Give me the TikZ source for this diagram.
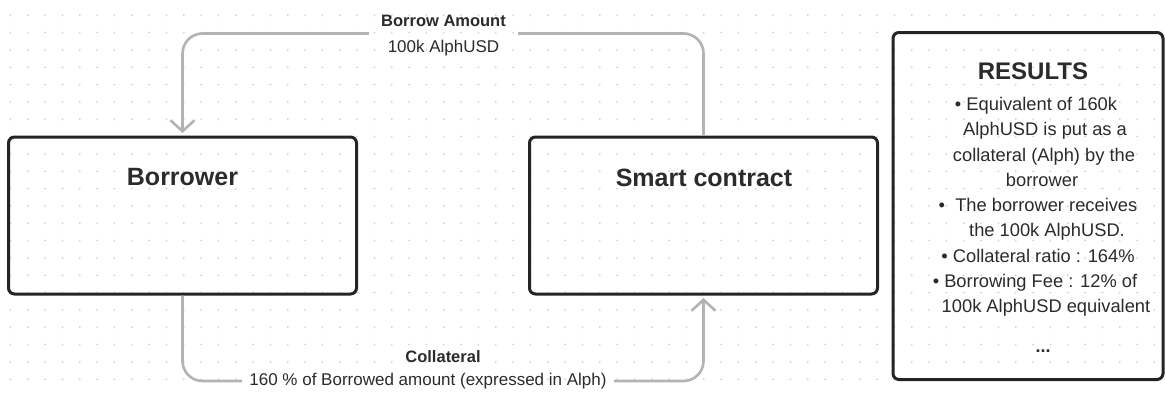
\documentclass[tikz,border=0pt]{standalone}
\usepackage{fontspec}
\setmainfont{Liberation Sans}
\usetikzlibrary{arrows.meta}
\definecolor{ink}{HTML}{2B2B2B}
\definecolor{edgegray}{HTML}{B3B3B3}
\definecolor{dotgray}{HTML}{D8D8D8}
\definecolor{frame}{HTML}{242424}
\begin{document}
\begin{tikzpicture}[x=1pt,y=-1pt,
  box/.style={draw=frame,line width=3pt,rounded corners=6pt,inner sep=0pt},
  boxtitle/.style={font=\fontsize{25}{30}\selectfont\bfseries,text=ink,inner sep=0pt},
  lab/.style={text=ink,inner sep=0pt,align=center},
  flow/.style={draw=edgegray,line width=2.6pt,rounded corners=20pt},
  tip/.style={-{Straight Barb[length=11pt,width=24pt]},shorten >=2.5pt},
  res/.style={text=ink,font=\fontsize{18.3}{20}\selectfont,anchor=base,inner sep=0pt}]
\useasboundingbox (0,0) rectangle (1166,392);
\fill[white] (0,0) rectangle (1166,392);
% dot grid
\foreach \i in {0,...,66}{\foreach \j in {0,...,21}{\fill[dotgray] (10.4+17.333*\i,15.3+17.333*\j) circle (1.1pt);}}
% boxes
\node[box,minimum width=348pt,minimum height=157pt] (bor) at (182.5,215.5) {};
\node[boxtitle] (bort) at (182.5,177.5) {Borrower};
\node[box,minimum width=348pt,minimum height=157pt] (sc) at (703.5,215.5) {};
\node[boxtitle] (sct) at (704,177.5) {Smart contract};
\node[box,minimum width=270pt,minimum height=347pt] (res) at (1028,206) {};
% labels
\node[lab,minimum width=149pt,font=\fontsize{17}{26}\selectfont] (amt) at (443.5,33.5)
  {\rule{0pt}{16pt}\textbf{\fontsize{16.5}{26}\selectfont Borrow Amount}\\100k AlphUSD};
\node[lab,font=\fontsize{16.5}{20}\selectfont\bfseries] (col) at (443,356.5) {Collateral};
\node[lab,font=\fontsize{17}{20}\selectfont,inner xsep=7pt] (pct) at (428,381) {160 \% of Borrowed amount (expressed in Alph)};
% connectors
\draw[flow] (sc.north) |- (amt.east);
\draw[flow,tip] (amt.west) -| (bor.north);
\draw[flow] (bor.south) |- (pct.west);
\draw[flow,tip] (pct.east) -| (sc.south);
% results
\node[boxtitle,font=\fontsize{24}{28}\selectfont\bfseries] (rest) at (1033,71.5) {RESULTS};
\foreach \yy/\xx/\txt [count=\k] in {
  104/1036/{• Equivalent of 160k},
  129.25/1045/{AlphUSD is put as a},
  154.5/1044/{collateral (Alph) by the},
  179.75/1042/{borrower},
  205/1038/{•\ \ The borrower receives},
  230.25/1047/{the 100k AlphUSD.},
  255.5/1038/{• Collateral ratio : 164\%},
  280.75/1035/{• Borrowing Fee : 12\% of},
  306/1046/{100k AlphUSD equivalent}}
  \node[res] (r\k) at (\xx,\yy+6.5) {\txt};
\node[res,font=\fontsize{18}{20}\selectfont\bfseries] (more) at (1043,352) {...};
\end{tikzpicture}
\end{document}
